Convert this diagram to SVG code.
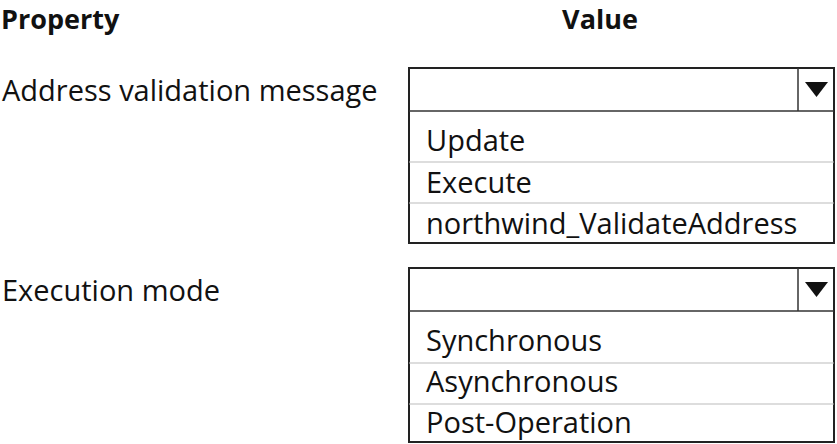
<svg xmlns="http://www.w3.org/2000/svg" width="837" height="444" viewBox="0 0 837 444">
<style>
text{font-family:"Open Sans","Noto Sans","Liberation Sans",sans-serif;fill:#111;font-size:29px}
.h{font-weight:bold;font-size:27px}
.box{fill:#fff;stroke:#222;stroke-width:2}
.sep{stroke:#bbb;stroke-width:1.2}
.hd{stroke:#333;stroke-width:1.5}
.tri{fill:#111}
</style>
<rect width="837" height="444" fill="#fff"/>
<g id="headers">
<text class="h" x="1" y="29">Property</text>
<text class="h" x="600" y="29" text-anchor="middle">Value</text>
</g>
<g id="label-address"><text x="2" y="101">Address validation message</text></g>
<g id="label-mode"><text x="2" y="301">Execution mode</text></g>
<g id="dropdown-address">
<rect class="box" x="409" y="68" width="425" height="175"/>
<line class="hd" x1="409" y1="111" x2="834" y2="111"/>
<line class="hd" x1="798" y1="68" x2="798" y2="111"/>
<polygon class="tri" points="805,82 828,82 816.5,97"/>
<line class="sep" x1="409" y1="162" x2="834" y2="162"/>
<line class="sep" x1="409" y1="203" x2="834" y2="203"/>
<text x="426" y="151">Update</text>
<text x="426" y="193">Execute</text>
<text x="426" y="234">northwind_ValidateAddress</text>
</g>
<g id="dropdown-mode">
<rect class="box" x="409" y="268" width="425" height="174"/>
<line class="hd" x1="409" y1="311" x2="834" y2="311"/>
<line class="hd" x1="798" y1="268" x2="798" y2="311"/>
<polygon class="tri" points="805,282 828,282 816.5,297"/>
<line class="sep" x1="409" y1="363" x2="834" y2="363"/>
<line class="sep" x1="409" y1="404" x2="834" y2="404"/>
<text x="426" y="351">Synchronous</text>
<text x="426" y="392">Asynchronous</text>
<text x="426" y="433">Post-Operation</text>
</g>
</svg>
